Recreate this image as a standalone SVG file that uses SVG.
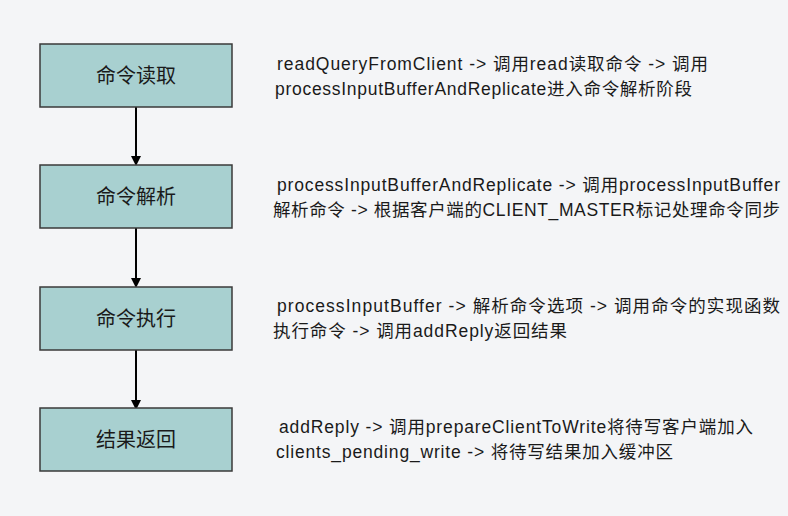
<svg xmlns="http://www.w3.org/2000/svg" width="788" height="516" viewBox="0 0 788 516">
<style>
.bg{fill:#f4f5f7}
.box{fill:#a8d0d0;stroke:#3a3a3a;stroke-width:1.5}
.lbl{font-family:"Liberation Sans","Noto Sans CJK SC",sans-serif;font-size:20px;fill:#1a1a1a;text-anchor:middle;dominant-baseline:central}
.desc{font-family:"Liberation Sans","Noto Sans CJK SC",sans-serif;font-size:17.5px;fill:#1a1a1a}
.conn{stroke:#000;stroke-width:2;fill:none}
</style>
<defs>
<marker id="ah" markerWidth="10" markerHeight="10" refX="8" refY="5" orient="auto" markerUnits="userSpaceOnUse">
<path d="M0,0 L10,5 L0,10 z" fill="#000"/>
</marker>
</defs>
<rect class="bg" x="0" y="0" width="788" height="516"/>
<g id="connectors">
<line class="conn" x1="136" y1="107" x2="136" y2="164" marker-end="url(#ah)"/>
<line class="conn" x1="136" y1="228" x2="136" y2="286" marker-end="url(#ah)"/>
<line class="conn" x1="136" y1="349" x2="136" y2="408" marker-end="url(#ah)"/>
</g>
<g id="n1">
<rect class="box" x="40" y="44" width="192" height="63"/>
<text class="lbl" x="136" y="76">命令读取</text>
</g>
<g id="n2">
<rect class="box" x="40" y="165" width="192" height="63"/>
<text class="lbl" x="136" y="197">命令解析</text>
</g>
<g id="n3">
<rect class="box" x="40" y="287" width="192" height="63"/>
<text class="lbl" x="136" y="319">命令执行</text>
</g>
<g id="n4">
<rect class="box" x="40" y="408" width="192" height="63"/>
<text class="lbl" x="136" y="440">结果返回</text>
</g>
<g id="t1">
<text class="desc" x="277" y="70" textLength="431" lengthAdjust="spacing">readQueryFromClient -&gt; 调用read读取命令 -&gt; 调用</text>
<text class="desc" x="275" y="95" textLength="417" lengthAdjust="spacing">processInputBufferAndReplicate进入命令解析阶段</text>
</g>
<g id="t2">
<text class="desc" x="277" y="191" textLength="503" lengthAdjust="spacing">processInputBufferAndReplicate -&gt; 调用processInputBuffer</text>
<text class="desc" x="273" y="216" textLength="507" lengthAdjust="spacing">解析命令 -&gt; 根据客户端的CLIENT_MASTER标记处理命令同步</text>
</g>
<g id="t3">
<text class="desc" x="277" y="312" textLength="503" lengthAdjust="spacing">processInputBuffer -&gt; 解析命令选项 -&gt; 调用命令的实现函数</text>
<text class="desc" x="273" y="337" textLength="294" lengthAdjust="spacing">执行命令 -&gt; 调用addReply返回结果</text>
</g>
<g id="t4">
<text class="desc" x="279" y="433" textLength="474" lengthAdjust="spacing">addReply -&gt; 调用prepareClientToWrite将待写客户端加入</text>
<text class="desc" x="276" y="458" textLength="397" lengthAdjust="spacing">clients_pending_write -&gt; 将待写结果加入缓冲区</text>
</g>
</svg>
